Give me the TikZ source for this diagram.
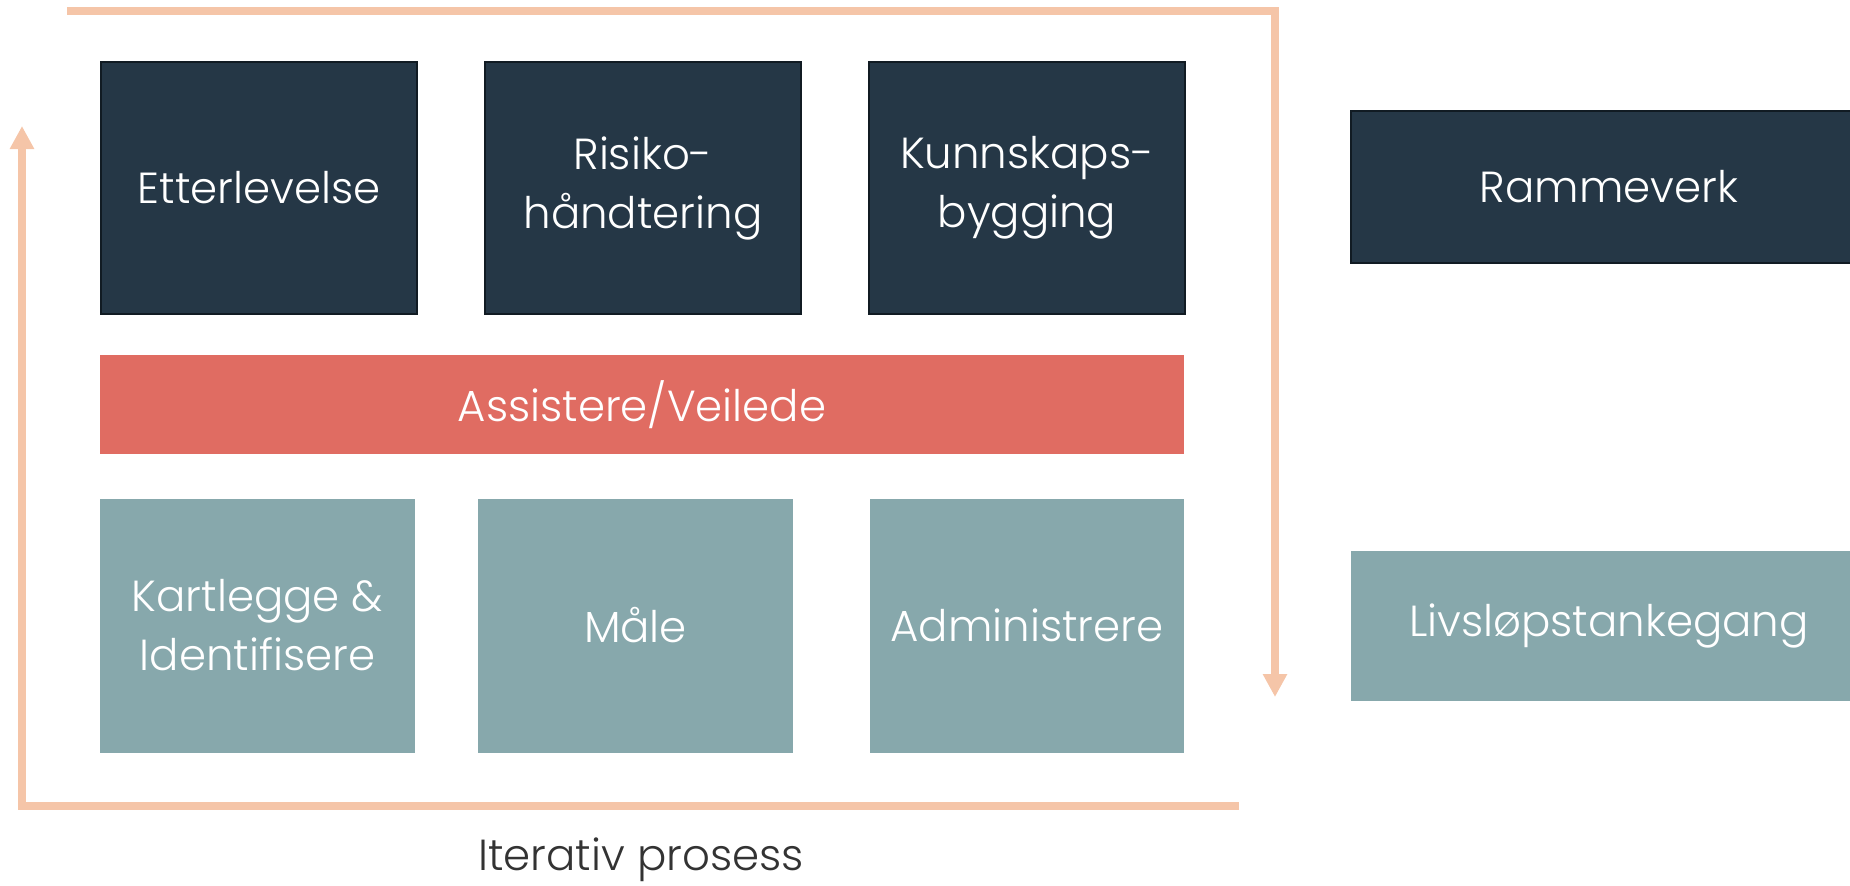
\documentclass[tikz,border=0pt]{standalone}
\usepackage{fontspec}
\setmainfont{Poppins Light}
\usetikzlibrary{arrows.meta}

\definecolor{navy}{HTML}{253746}
\definecolor{navyline}{HTML}{111B23}
\definecolor{coral}{HTML}{E06C62}
\definecolor{teal}{HTML}{87A8AC}
\definecolor{peach}{HTML}{F5C5A8}
\definecolor{captiongray}{HTML}{333333}

\tikzset{
    box/.style={rectangle, inner sep=0pt, text=white, align=center,
        font=\fontsize{43.5}{59}\selectfont},
    darkbox/.style={box, fill=navy, draw=navyline, line width=2.5pt,
        minimum width=316pt, minimum height=252pt},
    tealbox/.style={box, fill=teal, minimum width=315pt, minimum height=254pt},
    sidebox/.style={box, minimum width=516pt, minimum height=150pt},
    loopline/.style={peach, line width=8pt, line join=miter,
        -{Triangle[length=23pt, width=23pt]}}
}

\begin{document}
\begin{tikzpicture}[x=1pt, y=-1pt]
    \useasboundingbox (0,0) rectangle (1850,886);

    % Top row
    \node[darkbox] (etter) at (259,188) {Etterlevelse};
    \node[darkbox] (risiko) at (643,188) {Risiko-\\håndtering};
    \node[darkbox] (kunnskap) at (1027,188) {Kunnskaps-\\bygging};

    % Middle bar
    \node[box, fill=coral, minimum width=1084pt, minimum height=99pt] (assist) at (642,404.5) {Assistere/Veilede};

    % Bottom row
    \node[tealbox] (kartlegg) at (257.5,625.5) {Kartlegge \&\\Identifisere};
    \node[tealbox] (maale) at (635.5,625.5) {Måle};
    \node[tealbox, minimum width=314pt] (admin) at (1027,625.5) {Administrere};

    % Right column
    \node[sidebox, fill=navy, draw=navyline, line width=2.5pt, minimum height=152pt] (ramme) at (1609,187) {Rammeverk};
    \node[sidebox, fill=teal] (livslop) at (1609,626) {Livsløpstankegang};

    % Iterative loop
    \coordinate (topstart) at (67,11);
    \coordinate (topcorner) at (1275,11);
    \coordinate (downtip) at (1275,697);
    \coordinate (botstart) at (1239,806);
    \coordinate (botcorner) at (22,806);
    \coordinate (uptip) at (22,126);
    \draw[loopline] (topstart) -- (topcorner) -- (downtip);
    \draw[loopline] (botstart) -- (botcorner) -- (uptip);

    \node[text=captiongray, font=\fontsize{43.5}{59}\selectfont] (iterativ) at (641,860) {Iterativ prosess};
\end{tikzpicture}
\end{document}
